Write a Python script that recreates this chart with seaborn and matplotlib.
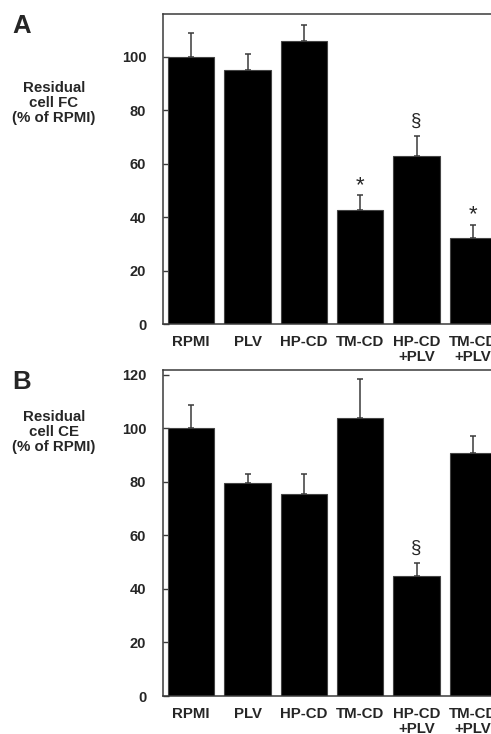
import matplotlib
matplotlib.use("Agg")
import matplotlib.pyplot as plt
import seaborn as sns
import pandas as pd
import numpy as np

categories = ["RPMI", "PLV", "HP-CD", "TM-CD", "HP-CD\n+PLV", "TM-CD\n+PLV"]

fc_values = [100, 95.2, 105.9, 42.5, 62.7, 32.3]
fc_errors = [9.0, 6.0, 6.0, 5.6, 7.6, 4.8]
fc_marks = ["", "", "", "*", "§", "*"]

ce_values = [100, 79.5, 75.5, 103.7, 44.8, 90.6]
ce_errors = [8.8, 3.5, 7.5, 14.7, 4.7, 6.4]
ce_marks = ["", "", "", "", "§", ""]

fc_yticks = [0, 20, 40, 60, 80, 100]
ce_yticks = [0, 20, 40, 60, 80, 100, 120]

sns.set_style("white")
plt.rcParams["font.family"] = ["Liberation Sans", "DejaVu Sans"]
plt.rcParams["font.weight"] = "bold"

W, H = 491, 734
fig = plt.figure(figsize=(W / 100, H / 100), dpi=100)

def px_axes(left, top, right, bottom):
    return fig.add_axes([left / W, 1 - bottom / H, (right - left) / W, (bottom - top) / H])

spine_col = "#3a3a3a"

def draw_panel(ax, values, errors, marks, yticks, ymax, ylabel, letter, label_y, letter_y):
    df = pd.DataFrame({"cat": categories, "val": values})
    sns.barplot(data=df, x="cat", y="val", color="black", saturation=1, width=0.82,
                errorbar=None, edgecolor="#444444", linewidth=0.8, ax=ax)
    x = np.arange(len(categories))
    ax.errorbar(x, values, yerr=[np.zeros(len(values)), errors], fmt="none",
                ecolor="#3a3a3a", elinewidth=1.1, capsize=2.5, capthick=1.1, zorder=3)
    for xi, v, e, m in zip(x, values, errors, marks):
        if m == "*":
            ax.annotate(m, (xi, v + e), xytext=(0, 7), textcoords="offset points",
                        ha="center", va="center", fontsize=16, fontweight="normal")
        elif m:
            ax.annotate(m, (xi, v + e), xytext=(0, 11), textcoords="offset points",
                        ha="center", va="center", fontsize=13.5, fontweight="normal")
    ax.set_xlim(-0.5, len(categories) - 0.5)
    ax.set_ylim(0, ymax)
    ax.set_yticks(yticks)
    ax.set_yticklabels([str(t) for t in yticks], fontsize=10.5, fontweight="bold")
    ax.set_xticks(x)
    ax.set_xticklabels(categories, fontsize=10.8, fontweight="bold", linespacing=1.1)
    ax.set_xticks(np.arange(len(categories)) + 0.5, minor=True)
    ax.tick_params(axis="x", which="major", length=0, pad=8)
    ax.tick_params(axis="x", which="minor", direction="in", length=4, width=1, color=spine_col)
    ax.tick_params(axis="y", direction="in", length=4, width=1, color=spine_col, pad=12, left=True)
    ax.set_xlabel("")
    ax.set_ylabel("")
    for s in ["left", "top", "bottom", "right"]:
        ax.spines[s].set_visible(True)
        ax.spines[s].set_color(spine_col)
        ax.spines[s].set_linewidth(1.1)
    fig.text(54 / W, 1 - label_y / H, ylabel, ha="center", va="center",
             fontsize=10.8, fontweight="bold", linespacing=1.05)
    fig.text(22 / W, 1 - letter_y / H, letter, ha="center", va="center",
             fontsize=18.5, fontweight="bold")

axA = px_axes(163, 14, 501, 324)
draw_panel(axA, fc_values, fc_errors, fc_marks, fc_yticks, 116,
           "Residual\ncell FC\n(% of RPMI)", "A", 103, 26)

axB = px_axes(163, 370, 501, 696)
draw_panel(axB, ce_values, ce_errors, ce_marks, ce_yticks, 121.7,
           "Residual\ncell CE\n(% of RPMI)", "B", 432, 382)

fig.savefig("out.png", dpi=100)
